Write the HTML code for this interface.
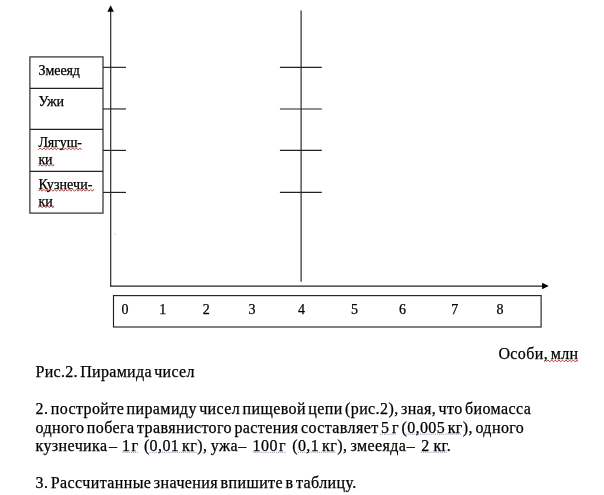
<!DOCTYPE html>
<html><head><meta charset="utf-8">
<style>
html,body{margin:0;padding:0;background:#fff;}
body{width:604px;height:495px;position:relative;overflow:hidden;font-family:"Liberation Serif","Times New Roman",serif;font-size:16px;line-height:18.4px;color:#000;-webkit-text-stroke:0.25px #000;}
svg{position:absolute;left:0;top:0;}
.t{position:absolute;white-space:nowrap;letter-spacing:0.4px;word-spacing:-1.9px;}
.lbl{position:absolute;white-space:nowrap;font-size:14px;line-height:16.7px;letter-spacing:-0.1px;}
.num{position:absolute;white-space:nowrap;font-size:14px;line-height:16px;}
</style></head><body>
<svg width="604" height="495" viewBox="0 0 604 495">
<g stroke="#222" stroke-width="1.15" fill="none">
<rect x="29.9" y="56.9" width="73.1" height="156.2"/>
<line x1="29.9" y1="88.3" x2="103" y2="88.3"/>
<line x1="29.9" y1="129.35" x2="103" y2="129.35"/>
<line x1="29.9" y1="171.3" x2="103" y2="171.3"/>
<line x1="110.7" y1="10" x2="110.7" y2="286.6"/>
<line x1="110.1" y1="286.05" x2="543" y2="286.05"/>
<line x1="301.1" y1="10.4" x2="301.1" y2="281.8"/>
<line x1="103" y1="67.35" x2="126" y2="67.35"/>
<line x1="103" y1="108.95" x2="126" y2="108.95"/>
<line x1="103" y1="150.4" x2="126" y2="150.4"/>
<line x1="103" y1="192.4" x2="126" y2="192.4"/>
<line x1="279.9" y1="67.35" x2="321.8" y2="67.35"/>
<line x1="279.9" y1="108.95" x2="321.8" y2="108.95"/>
<line x1="279.9" y1="150.4" x2="321.8" y2="150.4"/>
<line x1="279.9" y1="192.4" x2="321.8" y2="192.4"/>
<rect x="113.5" y="295.6" width="427.6" height="31.4"/>
</g>
<polygon points="110.6,5.2 107.4,11.7 113.9,11.7" fill="#000"/>
<polygon points="548.7,286.1 542.1,282.85 542.1,289.35" fill="#000"/>
<g stroke="#b83a32" stroke-width="1" fill="none" stroke-linejoin="round"><path d="M38.5 149.8 L40.3 148.0 L42.1 149.8 L43.9 148.0 L45.7 149.8 L47.5 148.0 L49.3 149.8 L51.1 148.0 L52.9 149.8 L54.7 148.0 L56.5 149.8 L58.3 148.0 L60.1 149.8 L61.9 148.0 L63.7 149.8 L65.5 148.0 L67.3 149.8 L69.1 148.0 L70.9 149.8 L72.7 148.0 L74.5 149.8 L76.3 148.0 L78.1 149.8 L79.9 148.0 L81.5 149.8"/><path d="M38.5 166.2 L40.3 164.4 L42.1 166.2 L43.9 164.4 L45.7 166.2 L47.5 164.4 L49.3 166.2 L51.1 164.4 L52.9 166.2 L53.9 164.4"/><path d="M38.5 191.2 L40.3 189.4 L42.1 191.2 L43.9 189.4 L45.7 191.2 L47.5 189.4 L49.3 191.2 L51.1 189.4 L52.9 191.2 L54.7 189.4 L56.5 191.2 L58.3 189.4 L60.1 191.2 L61.9 189.4 L63.7 191.2 L65.5 189.4 L67.3 191.2 L69.1 189.4 L70.9 191.2 L72.7 189.4 L74.5 191.2 L76.3 189.4 L78.1 191.2 L79.9 189.4 L81.7 191.2 L83.5 189.4 L85.3 191.2 L87.1 189.4 L88.9 191.2 L90.7 189.4 L92.5 191.2 L93.5 189.4"/><path d="M38.5 207.7 L40.3 205.9 L42.1 207.7 L43.9 205.9 L45.7 207.7 L47.5 205.9 L49.3 207.7 L51.1 205.9 L52.9 207.7 L53.9 205.9"/><path d="M546.3 361.8 L548.1 360.0 L549.9 361.8 L551.7 360.0 L553.5 361.8 L555.3 360.0 L557.1 361.8 L558.9 360.0 L560.7 361.8 L562.5 360.0 L564.3 361.8 L566.1 360.0 L567.9 361.8 L569.7 360.0 L571.5 361.8 L573.3 360.0 L575.1 361.8 L576.9 360.0 L577.4 361.8"/></g>
<g stroke="#7f8bb0" stroke-width="1" fill="none" stroke-dasharray="1 1.1"><line x1="380.0" y1="434.2" x2="395.5" y2="434.2"/><line x1="405.5" y1="434.2" x2="462.0" y2="434.2"/><line x1="122.5" y1="452.3" x2="138.0" y2="452.3"/><line x1="149.5" y1="452.3" x2="197.0" y2="452.3"/><line x1="253.0" y1="452.3" x2="286.0" y2="452.3"/><line x1="298.0" y1="452.3" x2="336.0" y2="452.3"/><line x1="421.0" y1="452.3" x2="447.0" y2="452.3"/></g>
<rect x="114.6" y="233.6" width="0.9" height="0.9" fill="#999"/>
</svg>
<div class="lbl" style="left:38.6px;top:63px;">Змееяд</div>
<div class="lbl" style="left:38.4px;top:94px;">Ужи</div>
<div class="lbl" style="left:38.4px;top:135px;line-height:16.7px;">Лягуш-<br>ки</div>
<div class="lbl" style="left:38.4px;top:177px;line-height:16.7px;letter-spacing:0.1px;">Кузнечи-<br>ки</div>
<div class="num" style="left:121.5px;top:302px;">0</div>
<div class="num" style="left:159.3px;top:302px;">1</div>
<div class="num" style="left:202.7px;top:302px;">2</div>
<div class="num" style="left:248.6px;top:302px;">3</div>
<div class="num" style="left:298.0px;top:302px;">4</div>
<div class="num" style="left:350.9px;top:302px;">5</div>
<div class="num" style="left:399.0px;top:302px;">6</div>
<div class="num" style="left:451.2px;top:302px;">7</div>
<div class="num" style="left:496.4px;top:302px;">8</div>
<div class="t" style="left:498.4px;top:345.2px;">Особи, млн</div>
<div class="t" style="left:35.5px;top:363.2px;letter-spacing:0.3px;">Рис.2. Пирамида чисел</div>
<div class="t" style="left:35.5px;top:400.2px;"><span style="word-spacing:-2.03px">2. постройте пирамиду чисел пищевой цепи (рис.2), зная, что биомасса</span><br>одного побега травянистого растения составляет 5 г (0,005 кг), одного</div>
<div class="t" style="left:0;top:437px;width:604px;height:19px;"><span style="position:absolute;left:35.5px">кузнечика</span> <span style="position:absolute;left:109.0px">–</span> <span style="position:absolute;left:122.1px">1</span> <span style="position:absolute;left:131.5px">г</span> <span style="position:absolute;left:143.9px">(0,01</span> <span style="position:absolute;left:182.1px">кг),</span> <span style="position:absolute;left:210.8px">ужа</span> <span style="position:absolute;left:238.3px">–</span> <span style="position:absolute;left:252.6px">100</span> <span style="position:absolute;left:279.0px">г</span> <span style="position:absolute;left:292.2px">(0,1</span> <span style="position:absolute;left:322.1px">кг),</span> <span style="position:absolute;left:350.5px">змееяда</span> <span style="position:absolute;left:406.8px">–</span> <span style="position:absolute;left:421.2px">2</span> <span style="position:absolute;left:433.4px">кг.</span></div>
<div class="t" style="left:35.5px;top:474.2px;">3. Рассчитанные значения впишите в таблицу.</div>
</body></html>
